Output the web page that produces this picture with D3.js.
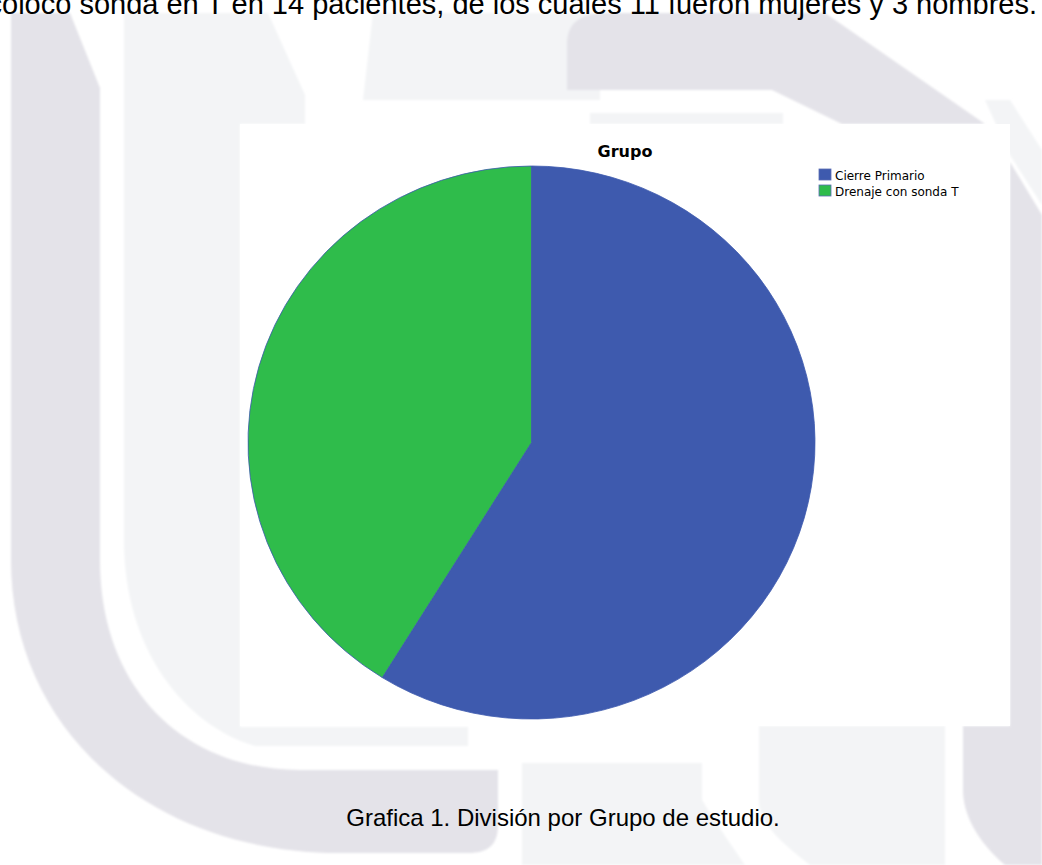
<!DOCTYPE html>
<html>
<head>
<meta charset="utf-8">
<script src="https://cdn.jsdelivr.net/npm/d3@7"></script>
<style>
  html, body { margin: 0; padding: 0; background: #ffffff; }
  svg { display: block; }
</style>
</head>
<body>
<svg id="page" width="1042" height="865"></svg>
<script>
// Patients per study group
const categories = ["Cierre Primario", "Drenaje con sonda T"];
const counts = [20, 14];
const sliceColors = ["#3e5aae", "#2fbc4b"];

const chartTitle = "Grupo";
const bodyText = "se colocó sonda en T en 14 pacientes, de los cuales 11 fueron mujeres y 3 hombres.";
const captionText = "Grafica 1. División por Grupo de estudio.";

const svg = d3.select("#page");
const W = 1042, H = 865;

// ---- page watermark (soft grey emblem behind the content) ----
const defs = svg.append("defs");
defs.append("filter").attr("id", "soft")
  .append("feGaussianBlur").attr("stdDeviation", 1.3);

const wm = svg.append("g").attr("filter", "url(#soft)");
const DARK = "#e4e3e9", LIGHT = "#f3f4f6";
const wmShapes = [
  // left light band
  { fill: LIGHT, d: "M124,13 L268,13 L305,95 L305,124 L240,124 L240,727 L468,727 L468,746 L255,746 C185,725 124,650 124,540 Z" },
  // left dark U
  { fill: DARK, d: "M11,13 L70,13 L100,88 L100,560 C100,690 185,770 300,770 L498,770 L498,825 C498,845 488,853 468,853 L340,853 C150,853 11,730 11,560 Z" },
  // middle light block
  { fill: LIGHT, d: "M373,13 L600,13 L600,100 L363,100 Z" },
  // top dark arch
  { fill: DARK, d: "M567,90 L567,45 C567,22 580,13 610,13 L825,13 L985,124 L842,124 L772,90 Z" },
  // light strip under the arch
  { fill: LIGHT, d: "M590,113 L783,113 L783,124 L590,124 Z" },
  // right light edge
  { fill: LIGHT, d: "M985,100 L1010,100 L1042,150 L1042,205 L1010,155 Z" },
  // right dark band
  { fill: DARK, d: "M1010,162 L1042,215 L1042,865 L1005,865 C978,842 963,815 963,790 L963,726 L1010,726 Z" },
  // bottom middle light block
  { fill: LIGHT, d: "M522,763 L702,763 L702,800 C720,830 735,850 745,865 L522,865 Z" },
  // bottom right light block
  { fill: LIGHT, d: "M759,726 L945,726 L945,865 L810,865 C785,845 759,825 759,800 Z" }
];
wm.selectAll("path").data(wmShapes).join("path")
  .attr("d", d => d.d).attr("fill", d => d.fill);

// ---- running body text, cut by the top edge ----
svg.append("text")
  .attr("x", 1037).attr("y", 14)
  .attr("text-anchor", "end")
  .attr("font-family", "Liberation Sans, Arial, sans-serif")
  .attr("font-size", 29)
  .attr("fill", "#000")
  .text(bodyText);

// ---- chart panel ----
const panel = { x: 240, y: 124, w: 770, h: 602 };
svg.append("rect")
  .attr("x", panel.x).attr("y", panel.y)
  .attr("width", panel.w).attr("height", panel.h)
  .attr("fill", "#ffffff");

svg.append("text")
  .attr("x", panel.x + panel.w / 2).attr("y", 157)
  .attr("text-anchor", "middle")
  .attr("font-family", "DejaVu Sans, Verdana, sans-serif")
  .attr("font-weight", "bold")
  .attr("font-size", 16)
  .attr("fill", "#000")
  .text(chartTitle);

// Pie (slightly wider than tall, as exported)
const cx = 531.5, cy = 442.5, ry = 276.5, rx = 283.5;
const color = d3.scaleOrdinal().domain(categories).range(sliceColors);
const pie = d3.pie().sort(null).value(d => d.value);
const arc = d3.arc().innerRadius(0).outerRadius(ry);
const pieData = pie(categories.map((c, i) => ({ name: c, value: counts[i] })));

svg.append("g")
  .attr("transform", `translate(${cx},${cy}) scale(${rx / ry},1)`)
  .selectAll("path").data(pieData).join("path")
  .attr("d", arc)
  .attr("fill", d => color(d.data.name))
  .attr("stroke", "#3e5aae")
  .attr("stroke-width", 0.8);

// Legend
const legend = svg.append("g").attr("transform", "translate(819,169)");
const rows = legend.selectAll("g").data(categories).join("g")
  .attr("transform", (d, i) => `translate(0,${i * 16})`);
rows.append("rect")
  .attr("width", 12).attr("height", 11)
  .attr("fill", d => color(d))
  .attr("stroke", "#5a6db3").attr("stroke-width", 0.8);
rows.append("text")
  .attr("x", 16).attr("y", 11)
  .attr("font-family", "DejaVu Sans, Verdana, sans-serif")
  .attr("font-size", 12)
  .attr("fill", "#000")
  .text(d => d);

// ---- figure caption ----
svg.append("text")
  .attr("x", 563).attr("y", 826)
  .attr("text-anchor", "middle")
  .attr("font-family", "Liberation Sans, Arial, sans-serif")
  .attr("font-size", 24)
  .attr("fill", "#000")
  .text(captionText);
</script>
</body>
</html>
